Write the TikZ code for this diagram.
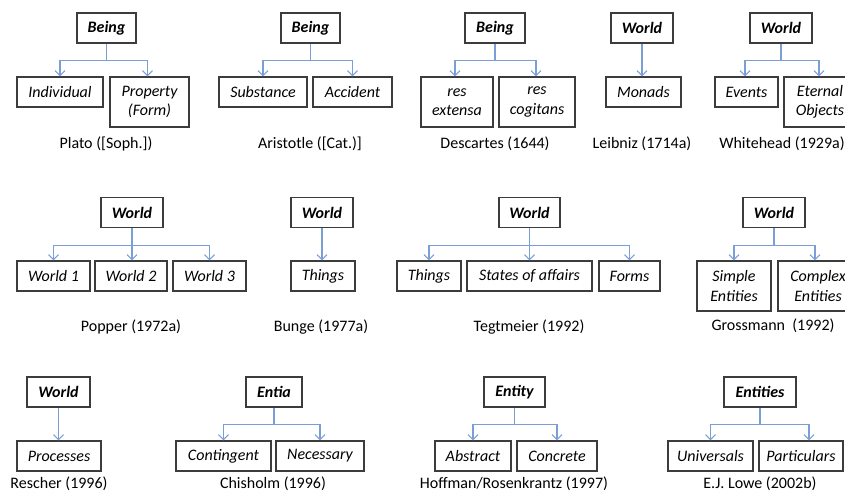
\documentclass[tikz,border=0pt]{standalone}
\usepackage{fontspec}
\setmainfont{Carlito}
\usetikzlibrary{arrows.meta}
\definecolor{linkblue}{HTML}{7A9FD6}
\definecolor{boxline}{HTML}{3C3C3C}
\begin{document}
\begin{tikzpicture}[x=1bp,y=-1bp,
  every node/.style={inner sep=0pt},
  head/.style={draw=boxline, line width=1.2bp, minimum height=30bp,
    font=\fontsize{16bp}{19.5bp}\selectfont\bfseries\itshape},
  kid/.style={draw=boxline, line width=1.2bp, minimum height=30bp, align=center,
    font=\fontsize{16bp}{19.5bp}\selectfont\itshape},
  tall/.style={kid, minimum height=50bp},
  author/.style={font=\fontsize{16bp}{19.5bp}\selectfont},
  stem/.style={draw=linkblue, line width=1.1bp},
  link/.style={stem, -{Straight Barb[length=5bp,width=10bp]}},
]
\useasboundingbox (0,0) rectangle (845,493);
\clip (0,0) rectangle (845,493);

% ---------- first row ----------
% Plato
\node[head, minimum width=59bp] (plato) at (106.5,28) {Being};
\node[kid, minimum width=86bp] (plato1) at (60,92) {Individual};
\node[tall, minimum width=79bp] (plato2) at (149.5,102) {Property\\(Form)};
\node[author] (platoL) at (106,144) {Plato ([Soph.])};
\draw[stem] (plato.south) -- ++(0,17) coordinate (platoJ);
\draw[link] (platoJ) -| (plato1.north);
\draw[link] (platoJ) -| ([xshift=-2bp]plato2.north);

% Aristotle
\node[head, minimum width=59bp] (arist) at (310.5,28) {Being};
\node[kid, minimum width=88bp] (arist1) at (263,92) {Substance};
\node[kid, minimum width=79bp] (arist2) at (352.5,92) {Accident};
\node[author] (aristL) at (310,144) {Aristotle ([Cat.)]};
\draw[stem] (arist.south) -- ++(0,17) coordinate (aristJ);
\draw[link] (aristJ) -| (arist1.north);
\draw[link] (aristJ) -| (arist2.north);

% Descartes
\node[head, minimum width=60bp] (desc) at (495,28) {Being};
\node[tall, minimum width=72bp] (desc1) at (457,102) {res\\extensa};
\node[tall, minimum width=76bp] (desc2) at (537,102) {res\\cogitans};
\node[author] (descL) at (495,144) {Descartes (1644)};
\draw[stem] (desc.south) -- ++(0,17) coordinate (descJ);
\draw[link] (descJ) -| ([xshift=-2bp]desc1.north);
\draw[link] (descJ) -| ([xshift=-1bp]desc2.north);

% Leibniz
\node[head, minimum width=62bp] (leib) at (642,28) {World};
\node[kid, minimum width=75bp] (leib1) at (643.5,92) {Monads};
\node[author] (leibL) at (642,144) {Leibniz (1714a)};
\draw[link] (leib.south) -- (leib.south |- leib1.north);

% Whitehead
\node[head, minimum width=62bp] (white) at (781,28) {World};
\node[kid, minimum width=63bp] (white1) at (746.5,92) {Events};
\node[tall, minimum width=72bp] (white2) at (820,102) {Eternal\\Objects};
\node[author] (whiteL) at (782,144) {Whitehead (1929a)};
\draw[stem] (white.south) -- ++(0,17) coordinate (whiteJ);
\draw[link] (whiteJ) -| ([xshift=-1.5bp]white1.north);
\draw[link] (whiteJ) -| ([xshift=-1bp]white2.north);

% ---------- second row ----------
% Popper
\node[head, minimum width=62bp] (pop) at (132,212.5) {World};
\node[kid, minimum width=73bp] (pop1) at (53.5,276) {World 1};
\node[kid, minimum width=72bp] (pop2) at (131,276) {World 2};
\node[kid, minimum width=73bp] (pop3) at (209.5,276) {World 3};
\node[author] (popL) at (131,327) {Popper (1972a)};
\draw[stem] (pop.south) -- ++(0,17) coordinate (popJ);
\draw[link] (popJ) -| (pop1.north);
\draw[link] (popJ) -- (popJ |- pop2.north);
\draw[link] (popJ) -| (pop3.north);

% Bunge
\node[head, minimum width=62bp] (bun) at (322,212.5) {World};
\node[kid, minimum width=64bp] (bun1) at (323,276) {Things};
\node[author] (bunL) at (321,327) {Bunge (1977a)};
\draw[link] (bun.south) -- (bun.south |- bun1.north);

% Tegtmeier
\node[head, minimum width=61bp] (teg) at (529.5,212.5) {World};
\node[kid, minimum width=64bp] (teg1) at (429,276) {Things};
\node[kid, minimum width=125bp] (teg2) at (529.5,276) {States of affairs};
\node[kid, minimum width=61bp] (teg3) at (629.5,276) {Forms};
\node[author] (tegL) at (529,327) {Tegtmeier (1992)};
\draw[stem] (teg.south) -- ++(0,17) coordinate (tegJ);
\draw[link] (tegJ) -| (teg1.north);
\draw[link] (tegJ) -- (tegJ |- teg2.north);
\draw[link] (tegJ) -| (teg3.north);

% Grossmann
\node[head, minimum width=62bp] (gro) at (774,212.5) {World};
\node[tall, minimum width=74bp] (gro1) at (734,286) {Simple\\Entities};
\node[tall, minimum width=80bp] (gro2) at (818,286) {Complex\\Entities};
\node[author] (groL) at (773,326) {Grossmann\ \ (1992)};
\draw[stem] (gro.south) -- ++(0,17) coordinate (groJ);
\draw[link] (groJ) -| (gro1.north);
\draw[link] (groJ) -| ([xshift=-3bp]gro2.north);

% ---------- third row ----------
% Rescher
\node[head, minimum width=63bp] (res) at (58.5,392) {World};
\node[kid, minimum width=84bp] (res1) at (59,456) {Processes};
\node[author] (resL) at (59,484) {Rescher (1996)};
\draw[link] (res.south) -- (res.south |- res1.north);

% Chisholm
\node[head, minimum width=56bp] (chi) at (274,392) {Entia};
\node[kid, minimum width=95bp] (chi1) at (223.5,456) {Contingent};
\node[kid, minimum width=88bp] (chi2) at (320,456) {Necessary};
\node[author] (chiL) at (273,484) {Chisholm (1996)};
\draw[stem] (chi.south) -- ++(0,17) coordinate (chiJ);
\draw[link] (chiJ) -| (chi1.north);
\draw[link] (chiJ) -| (chi2.north);

% Hoffman / Rosenkrantz
\node[head, minimum width=61bp] (hof) at (514.5,392) {Entity};
\node[kid, minimum width=76bp] (hof1) at (473,456) {Abstract};
\node[kid, minimum width=80bp] (hof2) at (557,456) {Concrete};
\node[author] (hofL) at (514,484) {Hoffman/Rosenkrantz (1997)};
\draw[stem] (hof.south) -- ++(0,17) coordinate (hofJ);
\draw[link] (hofJ) -| (hof1.north);
\draw[link] (hofJ) -| (hof2.north);

% Lowe
\node[head, minimum width=72bp] (low) at (760,392) {Entities};
\node[kid, minimum width=85bp] (low1) at (710.5,456) {Universals};
\node[kid, minimum width=84bp] (low2) at (801,456) {Particulars};
\node[author] (lowL) at (760,484) {E.J. Lowe (2002b)};
\draw[stem] (low.south) -- ++(0,17) coordinate (lowJ);
\draw[link] (lowJ) -| (low1.north);
\draw[link] (lowJ) -| ([xshift=8bp]low2.north);
\end{tikzpicture}
\end{document}
